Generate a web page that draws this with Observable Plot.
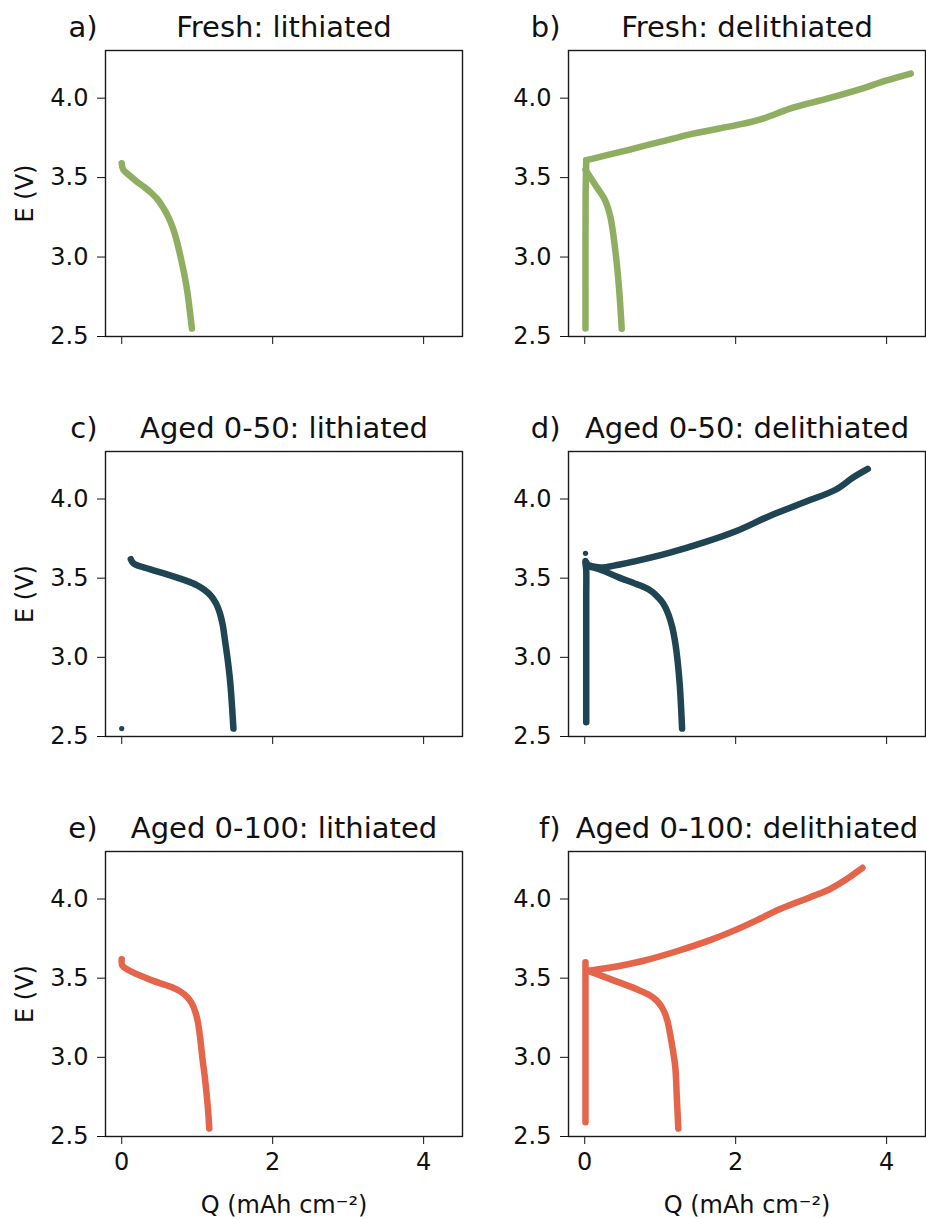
<!DOCTYPE html>
<html><head><meta charset="utf-8">
<script src="https://cdn.jsdelivr.net/npm/d3@7"></script>
<script src="https://cdn.jsdelivr.net/npm/@observablehq/plot@0.6"></script>
<style>
body{margin:0;background:#fff;}
#chart{position:relative;width:926px;height:1219px;background:#fff;overflow:hidden;}
#chart svg{position:absolute;}
</style></head><body><div id="chart"></div>
<script>
// ---- tick values & domains ----
const xTicks = [0, 2, 4];
const yTicks = [2.5, 3.0, 3.5, 4.0];
const xDomain = [-0.215, 4.515];
const yDomain = [2.5, 4.3];
const xLabel = "Q (mAh cm\u207B\u00B2)";
const yLabel = "E (V)";

// ---- data: [Q (mAh cm-2), E (V)] ----
// a) Fresh: lithiated
const freshLith = [[0,3.59],[0.02,3.55],[0.1,3.515],[0.2,3.475],[0.3,3.44],[0.4,3.40],[0.48,3.36],[0.55,3.31],[0.62,3.25],[0.68,3.18],[0.73,3.10],[0.78,3.00],[0.83,2.89],[0.87,2.78],[0.90,2.67],[0.93,2.55]];
// b) Fresh: delithiated
const freshDelithRest = [[0.01,2.55],[0.01,3.0],[0.012,3.4],[0.02,3.61]];
const freshDelithCharge = [[0.02,3.61],[0.2,3.63],[0.56,3.672],[1.0,3.725],[1.44,3.777],[2.01,3.83],[2.32,3.865],[2.76,3.94],[3.2,3.995],[3.64,4.055],[3.99,4.11],[4.32,4.155]];
const freshDelithDischarge = [[0.01,3.55],[0.05,3.52],[0.16,3.44],[0.27,3.357],[0.34,3.252],[0.40,3.063],[0.45,2.83],[0.49,2.548]];
// c) Aged 0-50: lithiated
const aged50LithDot = [[0,2.55]];
const aged50Lith = [[0.12,3.62],[0.16,3.592],[0.37,3.557],[0.59,3.525],[0.86,3.483],[1.0,3.455],[1.1,3.425],[1.18,3.39],[1.25,3.34],[1.30,3.28],[1.34,3.20],[1.37,3.10],[1.40,3.0],[1.43,2.88],[1.45,2.77],[1.48,2.55]];
// d) Aged 0-50: delithiated
const aged50DelithDot = [[0.01,3.657]];
const aged50DelithRest = [[0.02,2.59],[0.02,3.0],[0.02,3.4],[0.02,3.55],[0.01,3.608],[0.04,3.585],[0.075,3.577]];
const aged50DelithCharge = [[0.075,3.577],[0.21,3.567],[0.45,3.585],[0.69,3.609],[1.13,3.661],[1.57,3.724],[2.01,3.798],[2.45,3.893],[2.89,3.976],[3.33,4.06],[3.55,4.134],[3.75,4.19]];
const aged50DelithDischarge = [[0.05,3.575],[0.2,3.555],[0.45,3.505],[0.69,3.462],[0.85,3.428],[0.95,3.39],[1.04,3.34],[1.11,3.27],[1.16,3.19],[1.2,3.09],[1.23,2.98],[1.26,2.82],[1.29,2.55]];
// e) Aged 0-100: lithiated
const aged100Lith = [[0,3.62],[0.01,3.578],[0.15,3.536],[0.42,3.483],[0.68,3.44],[0.78,3.415],[0.87,3.38],[0.93,3.34],[0.98,3.28],[1.01,3.22],[1.04,3.12],[1.07,2.99],[1.10,2.88],[1.14,2.69],[1.16,2.55]];
// f) Aged 0-100: delithiated
const aged100DelithRest = [[0.01,2.59],[0.01,3.2],[0.01,3.6]];
const aged100DelithCharge = [[0.03,3.546],[0.34,3.567],[0.78,3.61],[1.22,3.67],[1.66,3.74],[2.0,3.805],[2.32,3.875],[2.58,3.935],[2.98,4.01],[3.24,4.06],[3.42,4.11],[3.68,4.197]];
const aged100DelithDischarge = [[0.05,3.546],[0.34,3.494],[0.69,3.43],[0.85,3.395],[0.95,3.36],[1.03,3.31],[1.09,3.24],[1.13,3.15],[1.17,3.04],[1.2,2.937],[1.22,2.75],[1.24,2.55]];

const tags = ["a)","b)","c)","d)","e)","f)"];
const titles = ["Fresh: lithiated","Fresh: delithiated","Aged 0-50: lithiated","Aged 0-50: delithiated","Aged 0-100: lithiated","Aged 0-100: delithiated"];
const panelLines = [
  [freshLith],
  [freshDelithRest, freshDelithCharge, freshDelithDischarge],
  [aged50Lith],
  [aged50DelithRest, aged50DelithCharge, aged50DelithDischarge],
  [aged100Lith],
  [aged100DelithRest, aged100DelithCharge, aged100DelithDischarge]
];
const panelDots = [[], [], [aged50LithDot], [aged50DelithDot], [], []];

// ---- styling & layout ----
const rowColors = ["#8fae62", "#1f4452", "#e4654a"];
const FONT = "DejaVu Sans, sans-serif";
const colLeft = [0, 463];
const rowTop = [0, 401, 801];
const rowHeight = [401, 400, 418];
const rowMarginBottom = [65, 65, 83];

const chart = document.getElementById("chart");

for (let i = 0; i < 6; i++) {
  const row = Math.floor(i / 2), col = i % 2;
  const color = rowColors[row];
  const bottom = row === 2;
  const marks = [
    Plot.axisY({ticks: yTicks, tickFormat: d => d.toFixed(1), tickSize: 8, tickPadding: 9, fontSize: 24,
      label: col === 0 ? yLabel : null, labelAnchor: "center", labelOffset: 90, labelArrow: "none"}),
    Plot.axisX({ticks: xTicks, tickSize: 8, tickPadding: 8, fontSize: 24,
      tickFormat: bottom ? d => String(d) : () => "",
      label: bottom ? xLabel : null, labelAnchor: "center", labelOffset: 76, labelArrow: "none"}),
    ...panelLines[i].map(s => Plot.line(s, {x: d => d[0], y: d => d[1], stroke: color, strokeWidth: 6.5,
      curve: "catmull-rom", strokeLinecap: "round", strokeLinejoin: "round"})),
    ...panelDots[i].map(s => Plot.dot(s, {x: d => d[0], y: d => d[1], fill: color, r: 2.6, stroke: null})),
    Plot.frame({stroke: "#1a1a1a", strokeWidth: 1.4}),
    Plot.text([titles[i]], {text: d => d, frameAnchor: "top", dy: -14, lineAnchor: "bottom", fontSize: 29, fill: "#111"}),
    Plot.text([tags[i]], {text: d => d, frameAnchor: "top-left", dx: -8, dy: -14, textAnchor: "end", lineAnchor: "bottom", fontSize: 29, fill: "#111"})
  ];
  const svg = Plot.plot({
    width: 463,
    height: rowHeight[row],
    marginLeft: 105,
    marginRight: 1,
    marginTop: 50,
    marginBottom: rowMarginBottom[row],
    x: {domain: xDomain},
    y: {domain: yDomain},
    style: {fontFamily: FONT, fontSize: "23px", color: "#111", background: "transparent", overflow: "visible"},
    marks
  });
  svg.style.left = colLeft[col] + "px";
  svg.style.top = rowTop[row] + "px";
  chart.appendChild(svg);
}
</script></body></html>
